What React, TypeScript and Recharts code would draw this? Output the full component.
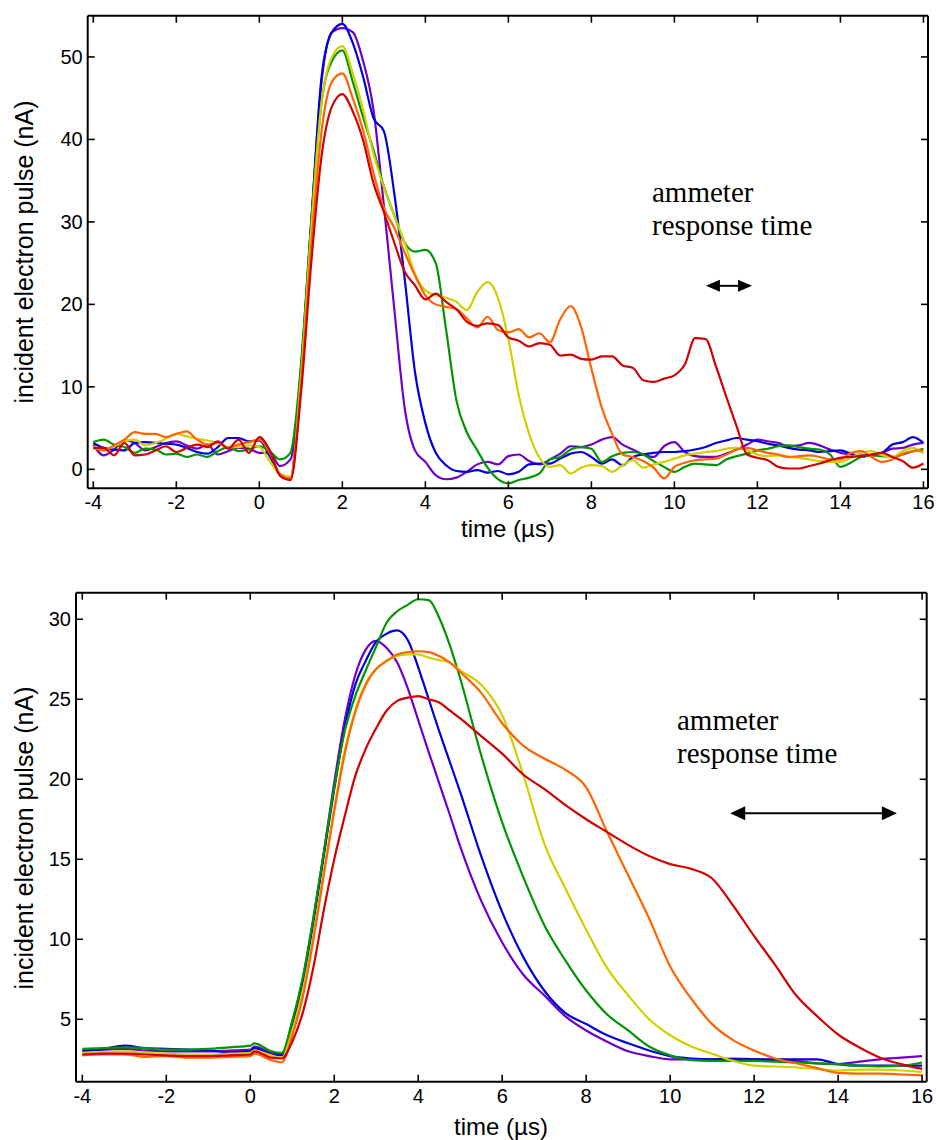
import React from "react";
import { LineChart, Line, XAxis, YAxis, ReferenceLine } from "recharts";

// ---- top panel: time grid (µs) and pulse currents (nA)
const tTop = [
  -4, -3.75, -3.5, -3.25, -3, -2.75, -2.5, -2.25, -2, -1.75, -1.5, -1.25, -1, -0.75, -0.5, -0.25,
  0, 0.25, 0.5, 0.75, 1, 1.25, 1.5, 1.75, 2, 2.25, 2.5, 2.75, 3, 3.25, 3.5, 3.75,
  4, 4.25, 4.5, 4.75, 5, 5.25, 5.5, 5.75, 6, 6.25, 6.5, 6.75, 7, 7.25, 7.5, 7.75,
  8, 8.25, 8.5, 8.75, 9, 9.25, 9.5, 9.75, 10, 10.25, 10.5, 10.75, 11, 11.25, 11.5, 11.75,
  12, 12.25, 12.5, 12.75, 13, 13.25, 13.5, 13.75, 14, 14.25, 14.5, 14.75, 15, 15.25, 15.5, 15.75, 16,
];
const purpleTop = [
  3.0, 1.7, 2.4, 3.5, 3.2, 2.3, 2.7, 3.2, 3.4, 2.9, 2.5, 3.0, 1.8, 2.2, 2.6, 2.5,
  2.0, 2.0, 0.4, 1.2, 11.5, 30.0, 47.0, 53.0, 53.5, 53.0, 49.5, 43.6, 32.0, 19.5, 7.5, 2.3,
  0.9, -0.7, -1.2, -1.0, -0.3, 0.6, 0.9, 0.6, 1.6, 1.8, 1.0, 0.6, 1.2, 1.9, 2.8, 2.7,
  3.0, 3.6, 3.9, 3.0, 2.4, 1.8, 1.5, 2.8, 3.3, 2.1, 1.6, 1.5, 1.5, 1.9, 2.4, 3.0,
  3.6, 3.4, 3.2, 2.8, 2.9, 3.2, 2.9, 2.4, 2.0, 1.8, 1.7, 1.7, 2.0, 2.5, 2.6, 3.0, 3.2,
];
const blueTop = [
  3.2, 2.6, 2.4, 2.3, 3.2, 3.3, 3.2, 3.1, 3.0, 2.6, 2.1, 1.9, 2.7, 3.8, 3.8, 3.4,
  3.5, 1.6, -0.6, -1.0, 12.0, 29.8, 47.6, 53.0, 54.0, 51.7, 47.6, 42.6, 41.0, 33.5, 23.2, 11.8,
  5.6, 2.0, 0.5, -0.2, -0.3, -0.1, -0.4, -0.2, -0.6, -0.3, 0.6, 0.7, 0.7, 1.3, 1.9, 2.1,
  1.5, 0.7, 1.2, 0.5, 1.5, 1.8, 2.0, 2.1, 2.1, 2.2, 2.4, 2.7, 3.2, 3.5, 3.8, 3.6,
  3.4, 3.1, 2.9, 2.6, 2.4, 2.3, 2.1, 2.2, 2.3, 1.9, 1.5, 1.8, 2.0, 3.0, 3.3, 3.9, 3.2,
];
const greenTop = [
  3.3, 3.6, 3.0, 2.7, 2.0, 2.5, 2.4, 1.8, 1.9, 1.5, 1.8, 1.5, 2.2, 2.7, 2.2, 2.4,
  2.8, 2.2, 1.2, 2.0, 12.5, 30.0, 44.5, 49.5, 50.8, 47.0, 42.7, 38.7, 34.3, 30.8, 27.5, 26.4,
  26.6, 25.0, 16.9, 8.3, 4.5, 2.3, 0.2, -1.2, -1.7, -1.3, -1.0, -0.5, 1.2, 1.5, 2.4, 2.7,
  2.5, 0.9, 1.6, 2.0, 2.1, 1.8, 1.0, 0.3, -0.3, 0.3, 0.7, 0.6, 0.5, 1.2, 1.6, 1.9,
  2.3, 2.5, 2.8, 2.9, 2.7, 2.5, 2.4, 1.8, 0.3, 0.8, 1.5, 1.7, 1.6, 1.5, 1.8, 2.2, 2.5,
];
const yellowTop = [
  2.8, 2.4, 2.8, 3.4, 3.6, 2.9, 3.2, 3.7, 4.3, 4.0, 3.7, 3.5, 3.2, 2.7, 2.7, 2.9,
  2.7, 1.0, -0.6, -0.9, 11.0, 29.0, 44.5, 50.0, 51.3, 48.0, 43.6, 38.3, 34.2, 30.8, 27.5, 23.7,
  21.7, 21.1, 20.8, 20.3, 19.3, 21.5, 22.7, 20.8, 15.8, 9.0, 4.3, 1.4, 0.3, 0.5, -0.5, 0.2,
  0.5, 0.4, -0.3, 0.5, 1.1, 0.2, 0.6, 0.9, 1.3, 1.7, 1.9, 2.1, 2.2, 2.5, 2.6, 2.3,
  1.8, 1.6, 1.7, 1.5, 1.4, 1.2, 1.0, 0.9, 0.9, 1.4, 2.0, 2.2, 1.7, 1.5, 2.2, 2.6, 1.9,
];
const orangeTop = [
  2.6, 2.3, 2.9, 3.6, 4.5, 4.3, 4.3, 3.9, 4.3, 4.6, 3.6, 3.0, 3.2, 2.6, 3.0, 3.3,
  3.6, 2.0, -0.6, -1.1, 10.0, 27.0, 41.0, 47.0, 48.0, 45.0, 41.1, 35.9, 31.7, 29.3, 26.3, 23.5,
  21.1, 20.0, 19.7, 19.4, 18.3, 17.2, 18.5, 16.9, 16.6, 17.0, 16.0, 16.5, 15.4, 18.2, 19.8, 17.3,
  12.2, 7.5, 4.3, 1.8, 1.5, 1.0, 0.2, -1.1, 0.3, 0.8, 1.1, 1.2, 1.3, 1.8, 2.4, 2.6,
  2.3, 2.0, 1.8, 1.5, 1.6, 1.7, 1.5, 1.2, 1.2, 2.0, 2.2, 1.5, 0.9, 1.2, 1.9, 2.2, 2.3,
];
const redTop = [
  2.6, 2.6, 1.7, 3.2, 1.7, 1.8, 2.3, 2.8, 2.1, 2.6, 3.0, 2.7, 3.4, 2.5, 3.6, 2.0,
  3.9, 2.3, -0.8, -1.3, 9.0, 25.0, 38.0, 44.0, 45.5, 43.4, 39.9, 34.7, 31.2, 27.5, 24.0, 22.3,
  20.6, 21.3, 20.3, 19.4, 17.9, 17.4, 17.7, 17.5, 16.0, 15.6, 14.9, 15.3, 15.1, 13.8, 13.9, 13.4,
  13.3, 13.7, 13.7, 12.6, 12.3, 10.8, 10.6, 11.0, 11.4, 12.7, 15.9, 15.8, 12.5, 8.8, 5.2, 1.8,
  1.4, 1.1, 0.3, 0.1, 0.1, 0.4, 0.7, 1.1, 1.4, 1.5, 1.6, 1.8, 2.0, 1.5, 1.0, 0.2, 0.7,
];

// ---- bottom panel
const tBottom = [
  -4, -3.5, -3, -2.5, -2, -1.5, -1, -0.5, 0, 0.1, 0.5, 0.75,
  1, 1.25, 1.5, 1.75, 2, 2.25, 2.5, 2.75, 3, 3.25, 3.5, 3.75, 4, 4.25, 4.5, 4.75, 5,
  5.5, 6, 6.5, 7, 7.5, 8, 8.5, 9, 9.5, 10, 10.5, 11, 11.5, 12, 12.5, 13, 13.5, 14, 14.5, 15, 15.5, 16,
];
const purpleBottom = [
  3.0, 3.1, 3.15, 3.05, 3.0, 3.0, 3.0, 3.05, 3.1, 3.3, 2.9, 2.8,
  4.8, 7.5, 11.2, 15.4, 19.8, 23.7, 26.5, 28.1, 28.65, 28.2, 27.3, 25.7, 23.7, 21.7, 19.75, 17.8, 15.8,
  12.4, 9.8, 7.8, 6.5, 5.2, 4.3, 3.6, 3.0, 2.7, 2.5, 2.5, 2.5, 2.55, 2.5, 2.45, 2.4, 2.25, 2.2, 2.35, 2.5, 2.6, 2.7,
];
const blueBottom = [
  3.05, 3.15, 3.35, 3.2, 3.15, 3.1, 3.05, 2.95, 3.0, 3.2, 2.8, 2.75,
  4.7, 7.3, 11.0, 15.2, 19.4, 23.2, 25.9, 27.4, 28.6, 29.1, 29.3, 28.7, 27.0, 25.0, 23.0, 21.1, 19.2,
  15.2, 11.7, 8.9, 6.8, 5.4, 4.7, 4.0, 3.5, 3.05, 2.7, 2.55, 2.5, 2.5, 2.5, 2.5, 2.5, 2.5, 2.2, 2.1, 2.1, 2.1, 2.1,
];
const greenBottom = [
  3.15, 3.2, 3.25, 3.2, 3.1, 3.1, 3.15, 3.25, 3.35, 3.5, 3.0, 2.9,
  4.9, 7.6, 11.3, 15.4, 19.5, 23.0, 25.2, 26.8, 28.3, 29.8, 30.5, 30.9, 31.25, 31.2, 30.1, 28.4, 26.3,
  21.5, 17.3, 13.9, 10.9, 8.7, 6.8, 5.3, 4.3, 3.3, 2.75, 2.45, 2.4, 2.4, 2.4, 2.35, 2.3, 2.25, 2.2, 2.1, 2.05, 2.1, 2.3,
];
const yellowBottom = [
  2.9, 2.95, 3.0, 2.9, 2.85, 2.8, 2.8, 2.85, 2.9, 3.05, 2.75, 2.6,
  4.3, 6.8, 10.2, 14.2, 18.2, 21.8, 24.3, 26.0, 26.9, 27.4, 27.7, 27.8, 27.8, 27.6, 27.45, 27.3, 26.8,
  25.9, 24.0, 20.3, 16.0, 13.2, 10.6, 8.2, 6.5, 5.0, 4.0, 3.3, 2.85, 2.4, 2.1, 2.05, 2.0, 1.9, 1.8, 1.85, 1.85, 1.8, 1.7,
];
const orangeBottom = [
  2.75, 2.8, 2.8, 2.65, 2.7, 2.6, 2.6, 2.65, 2.7, 2.85, 2.45, 2.3,
  4.0, 6.4, 9.9, 14.0, 18.0, 21.6, 24.2, 25.9, 26.9, 27.4, 27.8, 27.95, 28.0, 27.95, 27.7, 27.3, 26.7,
  25.4, 23.5, 22.1, 21.3, 20.6, 19.5, 16.7, 14.0, 11.3, 8.3, 6.3, 4.7, 3.7, 3.05, 2.55, 2.25, 1.95, 1.65, 1.6, 1.6, 1.55, 1.5,
];
const redBottom = [
  2.8, 2.85, 2.85, 2.8, 2.75, 2.7, 2.7, 2.75, 2.8, 3.0, 2.6, 2.55,
  3.6, 5.4, 8.2, 11.8, 15.0, 17.7, 20.2, 21.9, 23.2, 24.3, 24.9, 25.1, 25.2, 25.0, 24.8, 24.3, 23.8,
  22.7, 21.6, 20.3, 19.4, 18.4, 17.5, 16.7, 15.9, 15.2, 14.7, 14.4, 13.8, 12.1, 10.2, 8.4, 6.5, 5.2, 4.05, 3.25, 2.6, 2.2, 1.9,
];

const xTicks = [-4, -2, 0, 2, 4, 6, 8, 10, 12, 14, 16];
const yTicksTop = [0, 10, 20, 30, 40, 50];
const yTicksBottom = [5, 10, 15, 20, 25, 30];

const SERIES = [
  { key: "purple", color: "#7000c8" },
  { key: "blue", color: "#0000dc" },
  { key: "green", color: "#009600" },
  { key: "yellow", color: "#d0d000" },
  { key: "orange", color: "#ff6400" },
  { key: "red", color: "#d20000" },
];

const rowsTop = tTop.map((t, i) => ({
  t,
  purple: purpleTop[i],
  blue: blueTop[i],
  green: greenTop[i],
  yellow: yellowTop[i],
  orange: orangeTop[i],
  red: redTop[i],
}));

const rowsBottom = tBottom.map((t, i) => ({
  t,
  purple: purpleBottom[i],
  blue: blueBottom[i],
  green: greenBottom[i],
  yellow: yellowBottom[i],
  orange: orangeBottom[i],
  red: redBottom[i],
}));

const SANS = "'Liberation Sans', Arial, Helvetica, sans-serif";
const SERIF = "'Liberation Serif', 'Times New Roman', serif";
const TICK = 7;

function BottomTick({ x, y, payload }: any) {
  return (
    <g>
      <line x1={x} y1={y} x2={x} y2={y - TICK} stroke="#000" strokeWidth={1.6} />
      <text x={x} y={y + 21} textAnchor="middle" fontFamily={SANS} fontSize={20} fill="#000">
        {payload.value}
      </text>
    </g>
  );
}

function TopTick({ x, y }: any) {
  return <line x1={x} y1={y} x2={x} y2={y + TICK} stroke="#000" strokeWidth={1.6} />;
}

function LeftTick({ x, y, payload }: any) {
  return (
    <g>
      <line x1={x} y1={y} x2={x + TICK} y2={y} stroke="#000" strokeWidth={1.6} />
      <text x={x - 5} y={y} dy={7} textAnchor="end" fontFamily={SANS} fontSize={20} fill="#000">
        {payload.value}
      </text>
    </g>
  );
}

function RightTick({ x, y }: any) {
  return <line x1={x} y1={y} x2={x - TICK} y2={y} stroke="#000" strokeWidth={1.6} />;
}

function DoubleArrow({ x1, y1, x2, head, half }: any) {
  const a = Math.min(x1, x2);
  const b = Math.max(x1, x2);
  return (
    <g>
      <line x1={a + head - 2} y1={y1} x2={b - head + 2} y2={y1} stroke="#000" strokeWidth={2} />
      <polygon points={`${a},${y1} ${a + head},${y1 - half} ${a + head},${y1 + half}`} fill="#000" />
      <polygon points={`${b},${y1} ${b - head},${y1 - half} ${b - head},${y1 + half}`} fill="#000" />
    </g>
  );
}

type PanelProps = {
  rows: any[];
  height: number;
  margin: { top: number; right: number; bottom: number; left: number };
  xDomain: [number, number];
  yDomain: [number, number];
  yTicks: number[];
  arrow: { x1: number; x2: number; y: number; head: number; half: number };
};

// axes are 1px thick boxes so that Recharts still draws them; margins are 1px short to compensate
function Panel({ rows, height, margin, xDomain, yDomain, yTicks, arrow }: PanelProps) {
  const axisLine = { stroke: "#000", strokeWidth: 2 };
  return (
    <LineChart width={937} height={height} data={rows} margin={margin}>
      <XAxis
        xAxisId="b"
        dataKey="t"
        type="number"
        orientation="bottom"
        domain={xDomain}
        allowDataOverflow
        ticks={xTicks}
        interval={0}
        height={1}
        tickSize={0}
        tickMargin={0}
        tickLine={false}
        axisLine={axisLine}
        tick={<BottomTick />}
      />
      <XAxis
        xAxisId="t"
        dataKey="t"
        type="number"
        orientation="top"
        domain={xDomain}
        allowDataOverflow
        ticks={xTicks}
        interval={0}
        height={1}
        tickSize={0}
        tickMargin={0}
        tickLine={false}
        axisLine={axisLine}
        tick={<TopTick />}
      />
      <YAxis
        yAxisId="l"
        type="number"
        orientation="left"
        domain={yDomain}
        allowDataOverflow
        ticks={yTicks}
        interval={0}
        width={1}
        tickSize={0}
        tickMargin={0}
        tickLine={false}
        axisLine={axisLine}
        tick={<LeftTick />}
      />
      <YAxis
        yAxisId="r"
        type="number"
        orientation="right"
        domain={yDomain}
        allowDataOverflow
        ticks={yTicks}
        interval={0}
        width={1}
        tickSize={0}
        tickMargin={0}
        tickLine={false}
        axisLine={axisLine}
        tick={<RightTick />}
      />
      {SERIES.map((s) => (
        <Line
          key={s.key}
          xAxisId="b"
          yAxisId="l"
          type="monotone"
          dataKey={s.key}
          stroke={s.color}
          strokeWidth={2.2}
          dot={false}
          activeDot={false}
          isAnimationActive={false}
        />
      ))}
      <ReferenceLine
        xAxisId="b"
        yAxisId="l"
        segment={[
          { x: arrow.x1, y: arrow.y },
          { x: arrow.x2, y: arrow.y },
        ]}
        shape={(p: any) => <DoubleArrow {...p} head={arrow.head} half={arrow.half} />}
      />
    </LineChart>
  );
}

export default function App() {
  return (
    <div style={{ position: "absolute", left: 0, top: 0, width: 937, height: 1140, background: "#fff" }}>
      <div style={{ position: "absolute", left: 0, top: 0 }}>
        <Panel
          rows={rowsTop}
          height={560}
          margin={{ top: 14.7, right: 8, bottom: 70.7, left: 86.7 }}
          xDomain={[-4.135, 16.11]}
          yDomain={[-2.3, 55]}
          yTicks={yTicksTop}
          arrow={{ x1: 10.76, x2: 11.87, y: 22.25, head: 14, half: 6 }}
        />
      </div>
      <div style={{ position: "absolute", left: 0, top: 560 }}>
        <Panel
          rows={rowsBottom}
          height={580}
          margin={{ top: 31.7, right: 9.3, bottom: 57.3, left: 75 }}
          xDomain={[-4.15, 16.11]}
          yDomain={[1.1, 31.66]}
          yTicks={yTicksBottom}
          arrow={{ x1: 11.43, x2: 15.4, y: 17.875, head: 15, half: 7 }}
        />
      </div>
      <svg
        width={937}
        height={1140}
        style={{ position: "absolute", left: 0, top: 0, pointerEvents: "none" }}
      >
        <g fontFamily={SANS} fontSize={25} fill="#000">
          <text transform="translate(33,252) rotate(-90)" textAnchor="middle">
            incident electron pulse (nA)
          </text>
          <text transform="translate(33,838) rotate(-90)" textAnchor="middle">
            incident electron pulse (nA)
          </text>
        </g>
        <g fontFamily={SANS} fontSize={24} fill="#000">
          <text x={508} y={537} textAnchor="middle">
            time (µs)
          </text>
          <text x={501} y={1135} textAnchor="middle">
            time (µs)
          </text>
        </g>
        <g fontFamily={SERIF} fontSize={29} fill="#000">
          <text x={652} y={202}>ammeter</text>
          <text x={652} y={235}>response time</text>
          <text x={677} y={730}>ammeter</text>
          <text x={677} y={763}>response time</text>
        </g>
      </svg>
    </div>
  );
}
